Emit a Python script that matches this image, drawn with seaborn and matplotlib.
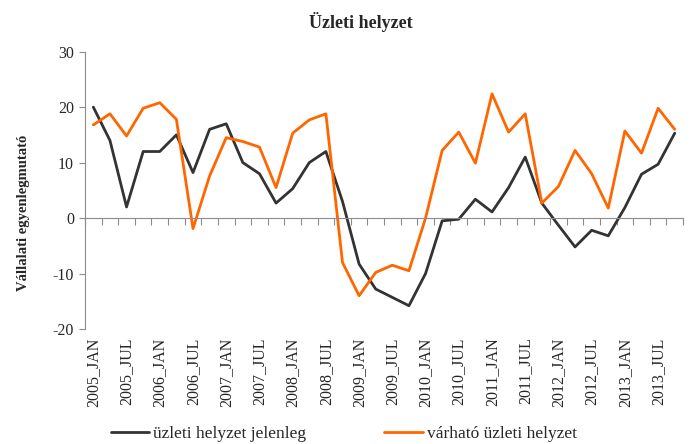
import numpy as np
import pandas as pd
import matplotlib.pyplot as plt
import seaborn as sns

years = list(range(2005, 2014))
months = ["JAN", "APR", "JUL", "OCT"]
quarters = [f"{y}_{m}" for y in years for m in months]

jelenleg = [20, 14, 2, 12, 12, 15, 8.2, 16, 17, 10, 8, 2.7,
            5.3, 10, 12, 3, -8.3, -12.8, -14.3, -15.8, -10, -0.5, -0.2, 3.4,
            1.1, 5.5, 11, 2.7, -1.3, -5.2, -2.2, -3.2, 1.9, 7.9, 9.7, 15.3]
varhato = [16.8, 18.8, 14.8, 19.8, 20.8, 17.8, -1.9, 7.6, 14.5, 13.8, 12.8, 5.5,
           15.3, 17.7, 18.8, -8, -14, -9.8, -8.5, -9.5, 0, 12.2, 15.5, 9.9,
           22.4, 15.5, 18.8, 2.7, 5.7, 12.2, 8, 1.8, 15.7, 11.7, 19.8, 16]

series_names = ["üzleti helyzet jelenleg", "várható üzleti helyzet"]
colors = ["#333333", "#ff6600"]

df = pd.DataFrame({"pos": np.arange(len(quarters)), "quarter": quarters,
                   series_names[0]: jelenleg, series_names[1]: varhato})
long_df = df.melt(id_vars=["pos", "quarter"], var_name="series", value_name="value")

sns.set_style("white")
plt.rcParams["font.family"] = ["Liberation Serif", "DejaVu Serif"]
plt.rcParams["axes.unicode_minus"] = False

fig, ax = plt.subplots(figsize=(6.93, 4.44), dpi=100)
fig.subplots_adjust(left=0.1227, right=0.9856, top=0.8836, bottom=0.259)

sns.lineplot(data=long_df, x="pos", y="value", hue="series", hue_order=series_names,
             palette=colors, linewidth=2.0, ax=ax, legend=True)

axis_gray = "#8c8c8c"
ax.set_xlim(-0.5, len(quarters) - 0.5)
ax.set_ylim(-20, 30)
ax.set_yticks([-20, -10, 0, 10, 20, 30])
ax.tick_params(axis="y", direction="out", length=4, color=axis_gray,
               labelsize=11.5, pad=4, left=True)
for side in ["top", "right"]:
    ax.spines[side].set_visible(False)
ax.spines["left"].set_color(axis_gray)
ax.spines["bottom"].set_color(axis_gray)
ax.spines["bottom"].set_position(("data", 0))

# category boundary ticks on the zero line
ax.set_xticks(np.arange(len(quarters) + 1) - 0.5)
ax.set_xticklabels([])
ax.tick_params(axis="x", direction="out", length=5, color=axis_gray, bottom=True)

# labels at the bottom of the plot
sec = ax.secondary_xaxis("bottom")
sec.set_xticks(df["pos"][::2], labels=df["quarter"][::2], rotation=90)
sec.tick_params(length=0, labelsize=11.5, pad=6)
sec.spines["bottom"].set_visible(False)

ax.set_xlabel("")
ax.set_ylabel("Vállalati egyenlegmutató", fontsize=10.5, fontweight="bold", labelpad=10)
ax.yaxis.set_label_coords(-0.092, 0.42)

fig.text(0.521, 0.95, "Üzleti helyzet", ha="center", va="center",
         fontsize=13, fontweight="bold")

handles, labels = ax.get_legend_handles_labels()
ax.get_legend().remove()
fig.legend(handles, labels, loc="center", bbox_to_anchor=(0.496, 0.022), ncol=2,
           frameon=False, fontsize=12.5, handlelength=2.2, handletextpad=0.25,
           columnspacing=4.5)

plt.savefig("out.png", dpi=100)
